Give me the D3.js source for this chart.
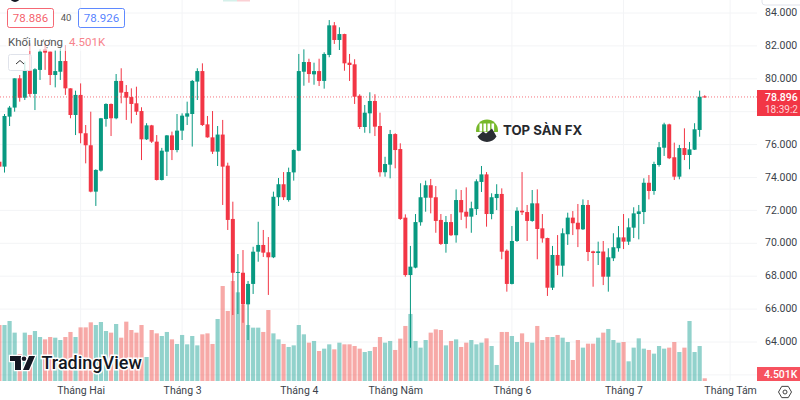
<!DOCTYPE html>
<html>
<head>
<meta charset="utf-8">
<script src="https://cdn.jsdelivr.net/npm/d3@7"></script>
<style>
  html, body { margin: 0; padding: 0; background: #fff; }
  svg { display: block; font-family: Roboto, sans-serif; }
</style>
</head>
<body>
<svg id="chart" width="800" height="400"></svg>
<script>
const open = [74.96,74.66,77.70,78.25,80.03,78.85,80.50,79.08,80.54,81.79,
  81.65,80.23,80.43,81.08,79.42,77.80,79.02,76.69,75.96,73.14,
  74.42,77.56,78.47,77.60,79.87,79.20,78.89,78.51,78.04,76.32,
  77.17,76.18,73.85,75.57,76.56,75.67,76.85,77.70,77.86,79.83,
  80.47,77.23,76.44,75.57,76.61,74.72,71.48,68.20,68.21,66.29,
  67.53,69.49,69.90,69.45,69.15,72.80,73.59,72.63,74.31,75.63,
  80.43,81.02,80.27,80.47,79.87,81.45,83.25,82.36,82.72,80.98,
  80.88,78.97,77.07,77.90,78.65,77.13,74.32,74.78,76.64,75.73,
  71.56,68.07,68.52,71.28,72.77,73.53,72.80,71.42,69.96,71.29,
  70.49,72.63,71.92,71.62,72.08,73.73,74.19,71.78,72.75,73.00,
  69.55,67.53,70.14,71.98,71.90,71.36,72.43,70.91,70.32,67.30,
  69.29,68.64,70.55,71.56,71.25,70.85,72.33,69.51,69.41,69.50,
  67.97,69.09,69.70,70.36,70.10,70.95,71.78,71.90,73.68,73.18,
  74.76,75.81,77.23,75.23,74.05,75.79,75.37,75.69,76.89,78.93];
const close = [74.66,77.74,78.25,80.03,78.85,80.54,79.08,80.58,81.65,81.59,
  80.23,80.47,81.08,79.42,77.80,79.02,76.69,75.96,73.14,74.46,
  77.60,78.47,77.60,79.87,79.16,78.85,78.47,78.00,76.32,77.17,
  76.18,73.85,75.63,76.56,75.67,76.85,77.76,77.90,79.87,80.47,
  77.19,76.44,75.57,76.61,74.66,71.42,68.21,68.26,66.29,67.53,
  69.49,69.90,69.43,69.15,72.83,73.59,72.80,74.33,75.67,80.47,
  81.02,80.29,80.47,79.87,81.51,83.25,82.36,82.72,80.94,80.84,
  78.91,77.07,77.94,78.65,77.09,74.32,74.82,76.64,75.67,71.48,
  68.07,68.58,71.29,72.80,73.53,72.77,71.36,69.96,71.29,70.49,
  72.63,71.88,71.62,72.13,73.77,74.19,71.78,72.80,73.00,69.49,
  67.53,70.14,71.98,71.88,71.36,72.43,70.87,70.30,67.30,69.29,
  68.64,70.61,71.56,71.22,70.85,72.33,69.47,69.41,69.51,67.97,
  69.15,69.76,70.36,70.10,70.97,71.82,71.94,73.68,73.18,74.82,
  75.84,77.23,75.17,74.05,75.79,75.37,75.71,76.93,78.91,78.896];
const high = [75.06,77.86,78.35,80.03,80.23,81.04,82.16,80.64,81.79,82.16,
  81.65,81.75,81.85,82.05,79.42,79.28,79.72,77.19,78.00,74.50,
  77.62,78.51,78.50,80.29,80.64,79.62,79.42,79.52,78.27,77.30,
  77.20,76.58,75.80,76.58,76.79,77.86,77.90,78.61,79.93,80.64,
  80.94,77.74,78.04,77.13,77.50,74.90,72.53,69.35,69.59,67.71,
  69.79,71.31,70.81,70.38,73.14,73.97,74.33,74.60,75.71,81.51,
  81.79,81.22,80.98,81.22,81.61,83.57,83.45,83.13,82.74,81.51,
  81.19,79.06,78.41,79.18,79.06,77.94,75.26,76.89,76.69,76.08,
  71.76,69.84,71.78,73.65,73.81,73.91,73.48,71.78,71.66,71.78,
  73.28,73.24,73.40,72.53,73.89,74.70,74.33,73.04,73.59,73.34,
  69.63,71.05,72.19,74.33,72.33,73.24,73.28,71.78,70.34,69.84,
  70.50,70.91,71.86,71.96,72.39,72.67,72.63,69.55,70.10,70.14,
  69.70,70.61,71.05,71.78,71.52,72.19,72.33,73.95,74.15,74.96,
  76.16,77.33,77.27,76.12,75.98,76.99,76.16,77.30,79.28,79.00];
const low = [74.56,74.30,77.13,78.00,78.61,78.71,78.91,78.10,79.93,80.54,
  79.62,79.48,79.93,79.02,77.60,76.58,76.08,74.86,73.10,72.27,
  74.36,77.09,76.52,77.54,78.51,77.50,77.29,77.80,75.06,76.28,
  76.10,73.82,73.82,74.09,75.06,75.53,76.28,77.19,75.88,78.71,
  77.13,76.42,75.43,74.70,72.33,70.81,65.64,65.70,65.17,64.12,
  66.92,68.88,69.17,66.86,69.10,72.27,72.63,72.53,73.81,75.60,
  79.58,79.76,79.64,79.56,79.40,81.31,82.12,81.75,80.49,79.87,
  78.47,76.95,76.72,76.69,76.52,74.05,74.05,73.95,74.56,71.42,
  67.97,63.65,68.48,71.07,71.92,71.82,70.64,69.90,69.43,70.44,
  70.04,71.42,70.91,70.64,71.72,73.12,71.01,71.46,72.02,69.03,
  67.06,67.50,70.08,71.72,70.14,71.31,69.03,70.04,66.80,67.16,
  68.07,67.97,69.90,70.50,69.77,70.81,68.92,67.36,68.68,67.46,
  67.06,68.92,69.49,69.65,69.90,70.32,70.24,71.17,72.67,72.95,
  74.66,75.31,75.12,73.85,73.89,75.06,74.50,75.67,76.48,78.85];
// volume in thousands
const volume = [93.3,93.3,100,80.6,45,80.6,76.7,83.3,73.3,69.4,
  73.3,72.2,68.3,73.3,81.7,73.3,89.4,89.4,97.8,93.3,
  98.3,83.3,80.6,95,72.2,98.9,85,80.6,93.3,40,
  85,79.4,75,81.7,69.4,61.7,76.7,61.1,75,59.4,
  77.8,79.4,61.7,103.3,158.3,116.7,166.7,147.8,126.7,93.3,
  88.9,88.9,81.7,118.3,79.4,69.4,61.7,56.7,59.4,93.3,
  77.8,63.9,66.7,50,53.9,61.1,52.8,63.9,61.1,61.1,
  58.3,53.9,48.3,50,56.7,73.3,63.9,66.7,51.7,70.6,
  91.7,111.7,66.7,55.6,68.3,80.6,86.1,85,59.4,66.7,
  69.4,56.7,63.9,68.3,61.1,63.9,71.1,58.3,26.7,81.7,
  81.7,75,65,79.4,65,63.9,91.7,68.3,73.3,73.3,
  76.7,72.2,65,35,68.3,55.6,62.2,62.2,72.2,80.6,
  86.7,68.3,63.9,65,32.8,55.6,71.1,53.9,51.7,45.6,
  58.3,53.9,55.6,65,48.3,55.6,100,48.3,58.3,4.501];

const priceTicks = [84, 82, 80, 78, 76, 74, 72, 70, 68, 66, 64];
const priceGrid = [84, 82, 80, 78, 76, 74, 72, 70, 68, 66, 64, 62];
const monthIndex = [16, 36, 59, 78, 101, 123, 144];
const monthLabels = ['Tháng Hai', 'Tháng 3', 'Tháng 4', 'Tháng Năm', 'Tháng 6', 'Tháng 7', 'Tháng Tám'];
const lastPrice = 78.896;

const UP = '#089981', DOWN = '#F23645', AXIS_TEXT = '#3b3f4a', GRID = '#f3f4f6';
const plotRight = 757;

const svg = d3.select('#chart');

const xScale = d3.scaleLinear().domain([0, 144]).range([-0.57, 730.1]);
const yScale = d3.scaleLinear().domain([84, 64]).range([13, 342]);
const volScale = d3.scaleLinear().domain([0, 100]).range([381, 321]);

const idx = d3.range(open.length);
const colorOf = i => close[i] >= open[i] ? UP : DOWN;
const volColorOf = i => close[i] >= open[i] ? '#26a69a' : '#ef5350';

svg.append('defs').append('clipPath').attr('id', 'plot')
  .append('rect').attr('x', 0).attr('y', 0).attr('width', plotRight).attr('height', 381);

// grid
const grid = svg.append('g');
grid.selectAll('.hgrid').data(priceGrid).enter().append('line')
  .attr('x1', 0).attr('x2', plotRight)
  .attr('y1', d => yScale(d)).attr('y2', d => yScale(d))
  .attr('stroke', GRID);
grid.selectAll('.vgrid').data(monthIndex).enter().append('line')
  .attr('x1', d => xScale(d)).attr('x2', d => xScale(d))
  .attr('y1', 0).attr('y2', 381)
  .attr('stroke', GRID);

const chart = svg.append('g').attr('clip-path', 'url(#plot)');

// volume bars
chart.selectAll('.vol').data(idx).enter().append('rect')
  .attr('x', i => xScale(i) - 2.1)
  .attr('width', 4.2)
  .attr('y', i => volScale(volume[i]))
  .attr('height', i => 381 - volScale(volume[i]))
  .attr('fill', volColorOf)
  .attr('fill-opacity', 0.5);

// wicks and bodies
chart.selectAll('.wick').data(idx).enter().append('line')
  .attr('x1', i => xScale(i)).attr('x2', i => xScale(i))
  .attr('y1', i => yScale(high[i])).attr('y2', i => yScale(low[i]))
  .attr('stroke', colorOf).attr('stroke-width', 1);
chart.selectAll('.body').data(idx).enter().append('rect')
  .attr('x', i => xScale(i) - 2)
  .attr('width', 4)
  .attr('y', i => yScale(Math.max(open[i], close[i])))
  .attr('height', i => Math.max(1, Math.abs(yScale(open[i]) - yScale(close[i]))))
  .attr('fill', colorOf);

// last price line
svg.append('line')
  .attr('x1', 0).attr('x2', plotRight)
  .attr('y1', yScale(lastPrice)).attr('y2', yScale(lastPrice))
  .attr('stroke', DOWN).attr('stroke-opacity', 0.7)
  .attr('stroke-dasharray', '1 2');

// price axis
const yAxis = d3.axisRight(yScale).tickValues(priceTicks).tickSize(0).tickPadding(8)
  .tickFormat(d3.format('.3f'));
const yAxisG = svg.append('g').attr('transform', `translate(${plotRight},0)`).call(yAxis);
yAxisG.select('.domain').remove();
yAxisG.selectAll('text').attr('fill', AXIS_TEXT).attr('font-size', 10.5)
  .attr('font-family', 'Roboto, sans-serif').attr('dy', '0.25em');

// month axis
const xAxis = d3.axisBottom(xScale).tickValues(monthIndex).tickSize(0).tickPadding(6)
  .tickFormat((d, i) => monthLabels[i]);
const xAxisG = svg.append('g').attr('transform', 'translate(0,381)').call(xAxis);
xAxisG.select('.domain').remove();
xAxisG.selectAll('text').attr('fill', AXIS_TEXT).attr('font-size', 10.5).attr('font-family', 'Roboto, sans-serif');

// price and volume tags
svg.append('rect').attr('x', plotRight).attr('y', 90).attr('width', 43).attr('height', 26).attr('fill', DOWN);
svg.append('text').attr('x', 765).attr('y', 101).attr('fill', '#fff').attr('font-size', 10.5).attr('font-weight', 500)
  .text(d3.format('.3f')(lastPrice));
svg.append('text').attr('x', 765).attr('y', 113).attr('fill', '#fff').attr('fill-opacity', 0.8).attr('font-size', 10)
  .text('18:39:2');
svg.append('rect').attr('x', plotRight).attr('y', 367).attr('width', 43).attr('height', 14).attr('fill', '#f7525f');
svg.append('text').attr('x', 764).attr('y', 378).attr('fill', '#fff').attr('font-size', 10.5).attr('font-weight', 500)
  .text('4.501K');

// top right scale button
svg.append('rect').attr('x', 762).attr('y', -6).attr('width', 50).attr('height', 11).attr('rx', 3)
  .attr('fill', '#fff').attr('stroke', '#e0e3eb');

// legend
svg.append('circle').attr('cx', 15).attr('cy', -3).attr('r', 5).attr('fill', '#131722');
svg.append('rect').attr('x', 223).attr('y', 0).attr('width', 14).attr('height', 1.5).attr('fill', '#d5f0ea');
svg.append('rect').attr('x', 237).attr('y', 0).attr('width', 13).attr('height', 1.5).attr('fill', '#fbd0d4');

const legendBox = (x, w, color, label) => {
  svg.append('rect').attr('x', x + 0.5).attr('y', 8.5).attr('width', w).attr('height', 19).attr('rx', 2)
    .attr('fill', '#fff').attr('stroke', color).attr('stroke-opacity', 0.75);
  svg.append('text').attr('x', x + w / 2 + 0.5).attr('y', 22).attr('text-anchor', 'middle')
    .attr('fill', color).attr('fill-opacity', 0.8).attr('font-size', 11.5).text(label);
};
legendBox(7, 46, DOWN, '78.886');
legendBox(78, 46, '#2962FF', '78.926');
svg.append('text').attr('x', 66).attr('y', 21).attr('text-anchor', 'middle')
  .attr('fill', '#555').attr('font-size', 9.5).text('40');

svg.append('rect').attr('x', 6).attr('y', 37).attr('width', 100).attr('height', 14)
  .attr('fill', '#fff').attr('fill-opacity', 0.6);
svg.append('text').attr('x', 8).attr('y', 46).attr('fill', '#555').attr('font-size', 11.5).text('Khối lượng');
svg.append('text').attr('x', 69).attr('y', 46).attr('fill', '#f7838c').attr('font-size', 11.5).text('4.501K');

svg.append('rect').attr('x', 8.5).attr('y', 54.5).attr('width', 23).attr('height', 16).attr('rx', 2)
  .attr('fill', '#fff').attr('fill-opacity', 0.75).attr('stroke', '#e0e3eb');
svg.append('path').attr('d', 'M16 64l4-3.5l4 3.5').attr('fill', 'none').attr('stroke', '#333').attr('stroke-width', 1);

// TradingView watermark
const tv = svg.append('g');
tv.append('path')
  .attr('d', 'M10 356H21V370H15V361H10Z M29 356H35L29 370H23Z')
  .attr('fill', '#131722').attr('stroke', '#fff').attr('stroke-width', 2.5).attr('paint-order', 'stroke');
tv.append('circle').attr('cx', 24).attr('cy', 358.7).attr('r', 2.3)
  .attr('fill', '#131722').attr('stroke', '#fff').attr('stroke-width', 2).attr('paint-order', 'stroke');
tv.append('text').attr('x', 41.5).attr('y', 369).attr('font-size', 18).attr('font-weight', 500)
  .attr('fill', '#131722').attr('stroke', '#fff').attr('stroke-width', 3).attr('paint-order', 'stroke')
  .text('TradingView');

// TOP SAN FX watermark
const brand = svg.append('g').attr('transform', 'translate(487,130.5)');
brand.append('circle').attr('r', 11).attr('fill', '#76b82a');
d3.range(4).forEach(k => {
  brand.append('rect').attr('x', -7.5 + k * 4).attr('y', -7).attr('width', 2.6).attr('height', 8).attr('fill', '#fff');
});
brand.append('path').attr('d', 'M-11 1.5H11A11 11 0 0 1 -11 1.5Z').attr('fill', '#fff');
brand.append('path').attr('d', 'M-9.5 6L-4 1L-1 3L5 -2L9.5 6A11 11 0 0 1 -9.5 6Z').attr('fill', '#2a2d33');
svg.append('text').attr('x', 503).attr('y', 135).attr('font-family', 'Inter, sans-serif').attr('font-size', 13.2)
  .attr('font-weight', 700).attr('fill', '#26282d').text('TOP SÀN FX');

// settings icon
const hexPoints = d3.range(6).map(k => {
  const a = Math.PI / 3 * k;
  return [785 + 6.5 * Math.cos(a), 392 + 6.5 * Math.sin(a)];
});
svg.append('path').attr('d', d3.line()(hexPoints) + 'Z').attr('fill', 'none').attr('stroke', '#444').attr('stroke-width', 1);
svg.append('circle').attr('cx', 785).attr('cy', 392).attr('r', 2).attr('fill', 'none').attr('stroke', '#444').attr('stroke-width', 1);
</script>
</body>
</html>
